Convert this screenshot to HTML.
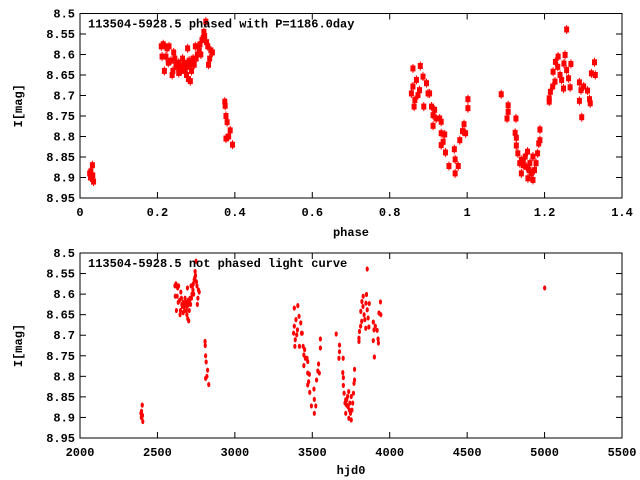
<!DOCTYPE html>
<html><head><meta charset="utf-8"><style>
html,body{margin:0;padding:0;background:#fff}
svg{display:block}
text{font-family:"Liberation Mono",monospace;font-size:12px;font-weight:bold;fill:#000}
</style></head><body>
<svg id="chart" width="640" height="480" xmlns="http://www.w3.org/2000/svg"></svg>
<script>
// Data: phase and magnitude for each observation (phase = (hjd - T0)/P, unfolded)
const phases = [0.025,0.027,0.03,0.032,0.035,0.028,0.033,
0.21,0.215,0.22,0.225,0.23,0.212,0.222,0.218,0.228,0.235,0.24,0.238,0.242,0.245,0.25,0.255,0.26,0.262,0.265,0.27,0.272,0.275,0.278,0.28,0.282,0.285,0.288,0.29,0.292,0.295,0.298,0.3,0.303,0.305,0.308,0.31,0.312,0.315,0.318,0.32,0.322,0.325,0.327,0.33,0.332,0.335,0.338,0.342,0.255,0.248,0.268,0.276,0.284,
0.374,0.375,0.377,0.38,0.377,0.384,0.388,0.394,
0.86,0.879,0.86,0.869,0.877,0.865,0.886,0.895,0.903,0.863,0.888,0.908,0.916,0.912,0.92,0.929,0.912,0.933,0.933,0.942,0.938,0.933,0.944,0.953,0.967,0.969,0.969,0.977,0.981,0.988,0.992,0.996,1.002,1.002,0.899,0.873,0.856,
1.088,1.106,1.106,1.103,1.126,1.124,1.127,1.127,1.131,1.136,1.14,1.145,1.153,1.156,1.157,1.162,1.166,1.17,1.174,1.178,1.182,1.185,1.188,1.188,1.145,1.15,1.17,1.16,1.14,
1.212,1.212,1.215,1.221,1.222,1.227,1.228,1.234,1.235,1.24,1.244,1.249,1.25,1.253,1.257,1.257,1.262,1.266,1.268,1.29,1.29,1.294,1.296,1.301,1.311,1.316,1.318,1.321,1.329,1.331,
2.223];
const mags = [8.89,8.90,8.90,8.87,8.91,8.885,8.895,
8.58,8.575,8.58,8.585,8.58,8.605,8.605,8.64,8.62,8.615,8.64,8.65,8.595,8.61,8.63,8.62,8.63,8.64,8.61,8.62,8.64,8.65,8.585,8.66,8.615,8.665,8.64,8.62,8.61,8.625,8.58,8.61,8.6,8.58,8.59,8.575,8.6,8.565,8.56,8.545,8.555,8.52,8.57,8.58,8.625,8.61,8.59,8.595,8.645,8.625,8.625,8.63,8.625,
8.715,8.725,8.75,8.765,8.805,8.80,8.785,8.82,
8.634,8.628,8.678,8.662,8.687,8.711,8.654,8.670,8.695,8.727,8.727,8.727,8.735,8.748,8.756,8.756,8.774,8.764,8.792,8.795,8.813,8.821,8.839,8.872,8.831,8.856,8.890,8.872,8.809,8.787,8.770,8.792,8.709,8.731,8.695,8.699,8.695,
8.697,8.724,8.740,8.756,8.756,8.791,8.803,8.822,8.841,8.865,8.890,8.870,8.874,8.837,8.902,8.865,8.890,8.906,8.882,8.865,8.841,8.817,8.809,8.783,8.857,8.849,8.849,8.882,8.857,
8.715,8.707,8.691,8.678,8.642,8.666,8.618,8.630,8.605,8.650,8.662,8.683,8.622,8.601,8.539,8.638,8.658,8.680,8.623,8.668,8.713,8.687,8.753,8.678,8.688,8.709,8.719,8.646,8.619,8.650,
8.585];
const period = 1186.0;
const epoch = 2364;
const yTicks = [8.5,8.55,8.6,8.65,8.7,8.75,8.8,8.85,8.9,8.95];
const yTickLabels = ["8.5","8.55","8.6","8.65","8.7","8.75","8.8","8.85","8.9","8.95"];
const phaseTicks = [0,0.2,0.4,0.6,0.8,1,1.2,1.4];
const phaseTickLabels = ["0","0.2","0.4","0.6","0.8","1","1.2","1.4"];
const hjdTicks = [2000,2500,3000,3500,4000,4500,5000,5500];
const hjdTickLabels = ["2000","2500","3000","3500","4000","4500","5000","5500"];

const svg = document.getElementById('chart');
const NS = 'http://www.w3.org/2000/svg';
function mk(tag, attrs, parent){const e=document.createElementNS(NS,tag);for(const k in attrs)e.setAttribute(k,attrs[k]);(parent||svg).appendChild(e);return e;}

function panel(opts){
  const {x0,x1,y0,y1,xmin,xmax,xt,xtl,xs,ys,title,xlabel,xlabelY,big,name} = opts;
  const g = mk('g',{});
  
  
  const sx = v => x0 + (v - xmin)/(xmax - xmin)*(x1 - x0);
  const sy = v => y0 + (v - 8.5)/(8.95 - 8.5)*(y1 - y0);
  const clip = mk('clipPath',{id:name+'-clip'},g);
  mk('rect',{x:x0,y:y0,width:x1-x0,height:y1-y0},clip);
  const frame = mk('rect',{x:x0,y:y0,width:x1-x0,height:y1-y0,fill:'none',stroke:'#000','stroke-width':1},g);
  
  
  yTicks.forEach((v,i)=>{
    const y = sy(v);
    mk('line',{x1:x0,x2:x0+6,y1:y,y2:y,stroke:'#000'},g);
    mk('line',{x1:x1,x2:x1-6,y1:y,y2:y,stroke:'#000'},g);
    const t = mk('text',{x:x0-5,y:y+4,'text-anchor':'end'},g);
    t.textContent = yTickLabels[i];
    
    
  });
  xt.forEach((v,i)=>{
    const x = sx(v);
    mk('line',{x1:x,x2:x,y1:y1,y2:y1-6,stroke:'#000'},g);
    mk('line',{x1:x,x2:x,y1:y0,y2:y0+6,stroke:'#000'},g);
    const t = mk('text',{x:x,y:y1+18,'text-anchor':'middle'},g);
    t.textContent = xtl[i];
    
    
  });
  const pts = mk('g',{'clip-path':'url(#'+name+'-clip)',fill:'#f00'},g);
  
  
  xs.forEach((xv,i)=>{
    const cx = sx(xv), cy = sy(ys[i]);
    let p;
    if(big){ p = mk('rect',{x:cx-2.5,y:cy-3,width:5,height:6},pts); mk('rect',{x:cx-0.5,y:cy-4.5,width:1,height:9},pts); }
    else { p = mk('ellipse',{cx:cx,cy:cy,rx:1.6,ry:2.6},pts); }
    
    
  });
  const tt = mk('text',{x:x0+8,y:y0+14},g);
  tt.textContent = title;
  
  
  const xl = mk('text',{x:(x0+x1)/2,y:xlabelY,'text-anchor':'middle'},g);
  xl.textContent = xlabel;
  
  
  const ymid = (y0+y1)/2;
  const yl = mk('text',{x:22,y:ymid,'text-anchor':'middle',transform:'rotate(-90 22 '+ymid+')'},g);
  yl.textContent = 'I[mag]';
  
  
}

panel({x0:80,x1:622,y0:13.5,y1:198,xmin:0,xmax:1.4,xt:phaseTicks,xtl:phaseTickLabels,xs:phases,ys:mags,
  title:'113504-5928.5 phased with P=1186.0day',xlabel:'phase',xlabelY:236,big:true,name:'phased-panel'});
const hjds = phases.map(p => epoch + p*period);
panel({x0:80,x1:622,y0:253,y1:438,xmin:2000,xmax:5500,xt:hjdTicks,xtl:hjdTickLabels,xs:hjds,ys:mags,
  title:'113504-5928.5 not phased light curve',xlabel:'hjd0',xlabelY:474,big:false,name:'unphased-panel'});
</script>
</body></html>
